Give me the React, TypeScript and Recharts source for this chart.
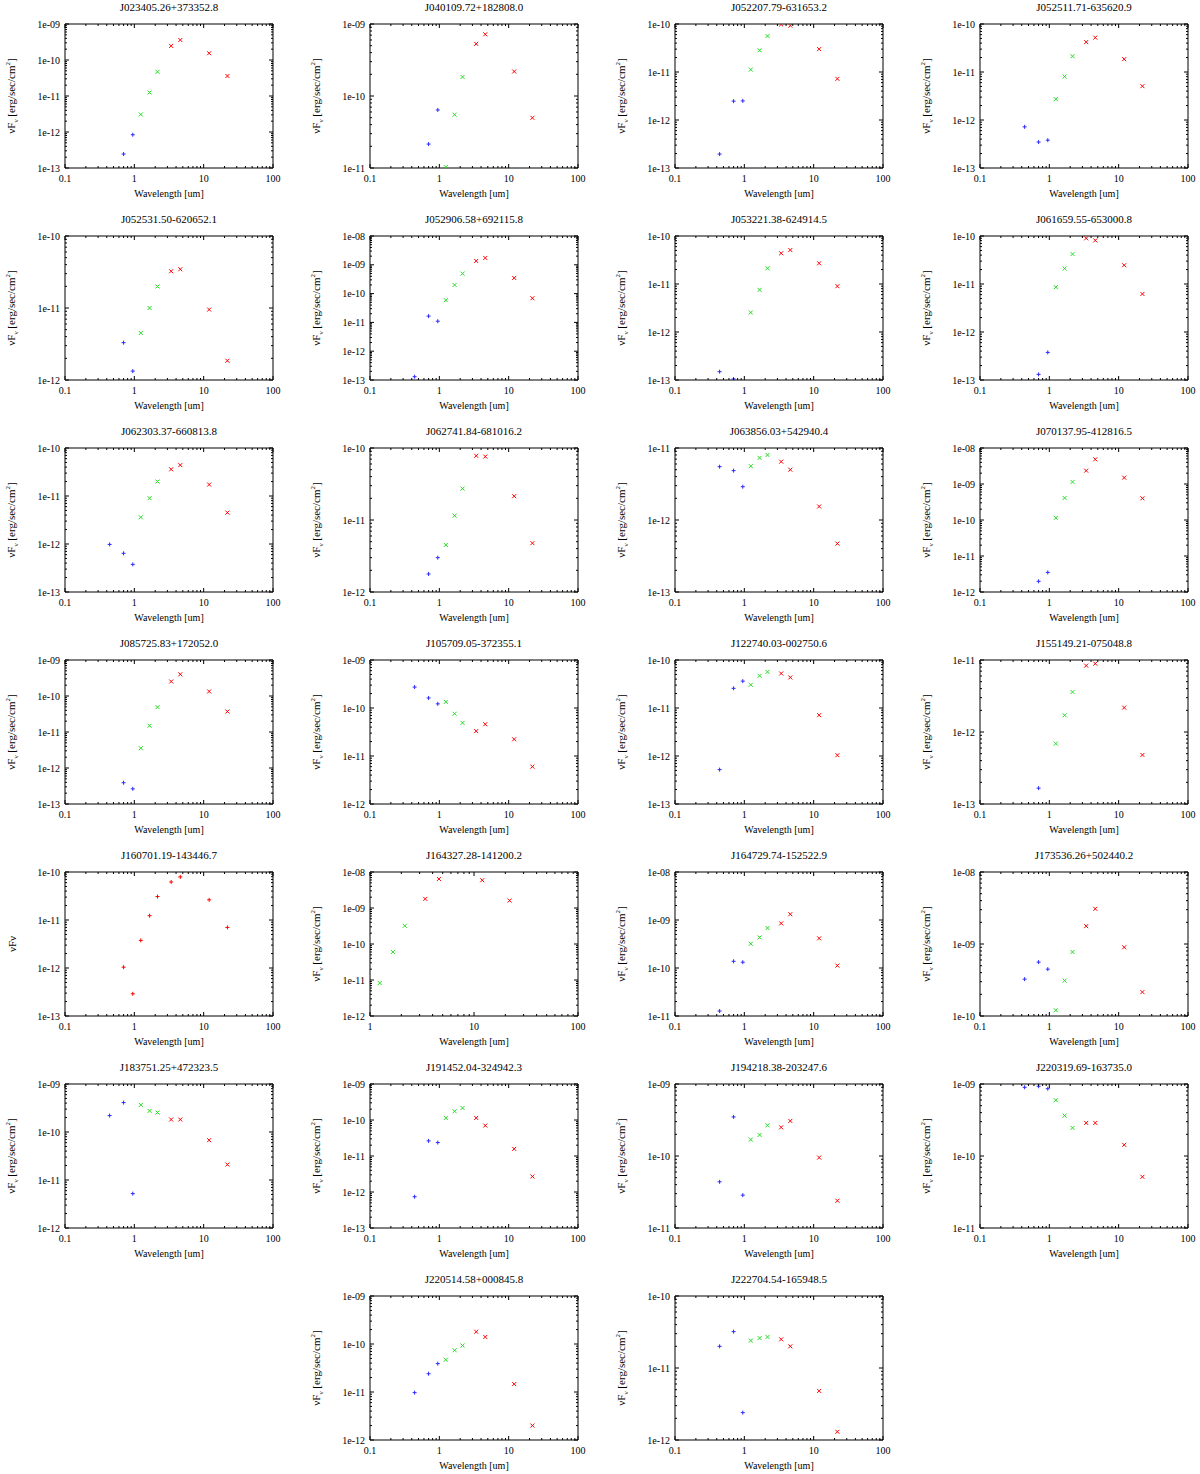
import React from 'react';
import { ScatterChart, Scatter, XAxis, YAxis, ReferenceArea } from 'recharts';

// source names, one panel each
const TITLES = [
    'J023405.26+373352.8', 'J040109.72+182808.0', 'J052207.79-631653.2', 'J052511.71-635620.9',
    'J052531.50-620652.1', 'J052906.58+692115.8', 'J053221.38-624914.5', 'J061659.55-653000.8',
    'J062303.37-660813.8', 'J062741.84-681016.2', 'J063856.03+542940.4', 'J070137.95-412816.5',
    'J085725.83+172052.0', 'J105709.05-372355.1', 'J122740.03-002750.6', 'J155149.21-075048.8',
    'J160701.19-143446.7', 'J164327.28-141200.2', 'J164729.74-152522.9', 'J173536.26+502440.2',
    'J183751.25+472323.5', 'J191452.04-324942.3', 'J194218.38-203247.6', 'J220319.69-163735.0',
    'J220514.58+000845.8', 'J222704.54-165948.5',
];

// band wavelengths [um]
const WL_OPT = [0.44, 0.7, 0.95];
const WL_NIR = [1.24, 1.66, 2.16];
const WL_MIR = [3.4, 4.6, 12, 22];

// nuFnu [erg/sec/cm^2], B R I
const OPT_FLUX: (number | null)[][] = [
    [null, 2.44e-13, 8.4e-13], [null, 2.15e-11, 6.4e-11], [1.95e-13, 2.47e-12, 2.5e-12], [7.2e-13, 3.47e-13, 3.8e-13],
    [null, 3.3e-12, 1.33e-12], [1.3e-13, 1.65e-11, 1.1e-11], [1.49e-13, 1.05e-13, null], [null, 1.31e-13, 3.76e-13],
    [9.8e-13, 6.4e-13, 3.76e-13], [null, 1.78e-12, 3.0e-12], [5.5e-12, 4.85e-12, 2.9e-12], [null, 1.98e-12, 3.5e-12],
    [null, 3.9e-13, 2.64e-13], [2.73e-10, 1.62e-10, 1.22e-10], [5.2e-13, 2.57e-11, 3.63e-11], [null, 1.66e-13, null],
    [null, 1.04e-12, 2.9e-13], [null, null, null], [1.27e-11, 1.38e-10, 1.32e-10], [3.25e-10, 5.6e-10, 4.47e-10],
    [2.2e-10, 4.1e-10, 5.2e-12], [7.4e-13, 2.63e-11, 2.36e-11], [4.38e-11, 3.49e-10, 2.86e-11], [9.0e-10, 9.3e-10, 8.6e-10],
    [9.7e-12, 2.4e-11, 3.9e-11], [2.0e-11, 3.2e-11, 2.4e-12],
];

// J H K
const NIR_FLUX: (number | null)[][] = [
    [3.07e-12, 1.25e-11, 4.68e-11], [1.03e-11, 5.5e-11, 1.84e-10], [1.12e-11, 2.84e-11, 5.6e-11], [2.72e-12, 8.05e-12, 2.13e-11],
    [4.5e-12, 1.0e-11, 1.99e-11], [5.9e-11, 2.0e-10, 4.95e-10], [2.55e-12, 7.55e-12, 2.13e-11], [8.6e-12, 2.1e-11, 4.2e-11],
    [3.6e-12, 9.0e-12, 2.0e-11], [4.5e-12, 1.15e-11, 2.73e-11], [5.6e-12, 7.3e-12, 8.0e-12], [1.15e-10, 4.1e-10, 1.14e-9],
    [3.55e-12, 1.49e-11, 4.9e-11], [1.34e-10, 7.6e-11, 4.9e-11], [3.05e-11, 4.68e-11, 5.66e-11], [6.9e-13, 1.71e-12, 3.6e-12],
    [3.76e-12, 1.23e-11, 3.08e-11], [8.2e-12, 6.0e-11, 3.2e-10], [3.2e-10, 4.35e-10, 6.8e-10], [1.2e-10, 3.1e-10, 7.75e-10],
    [3.66e-10, 2.75e-10, 2.54e-10], [1.14e-10, 1.75e-10, 2.16e-10], [1.69e-10, 1.96e-10, 2.67e-10], [5.94e-10, 3.64e-10, 2.46e-10],
    [4.7e-11, 7.4e-11, 9.3e-11], [2.4e-11, 2.6e-11, 2.7e-11],
];

// W1 W2 W3 W4
const MIR_FLUX: (number | null)[][] = [
    [2.46e-10, 3.6e-10, 1.54e-10, 3.6e-11], [5.3e-10, 7.2e-10, 2.19e-10, 4.98e-11], [9.8e-11, 9.25e-11, 3.0e-11, 7.2e-12],
    [4.2e-11, 5.2e-11, 1.85e-11, 5.07e-12], [3.24e-11, 3.45e-11, 9.5e-12, 1.85e-12], [1.36e-9, 1.73e-9, 3.5e-10, 6.9e-11],
    [4.37e-11, 5.1e-11, 2.7e-11, 9.0e-12], [8.95e-11, 8.1e-11, 2.46e-11, 6.2e-12], [3.6e-11, 4.4e-11, 1.73e-11, 4.5e-12],
    [7.8e-11, 7.6e-11, 2.14e-11, 4.77e-12], [6.46e-12, 5.0e-12, 1.54e-12, 4.7e-13], [2.35e-9, 4.85e-9, 1.5e-9, 4.0e-10],
    [2.53e-10, 4.0e-10, 1.34e-10, 3.7e-11], [3.3e-11, 4.6e-11, 2.23e-11, 6.0e-12], [5.24e-11, 4.33e-11, 7.1e-12, 1.04e-12],
    [8.35e-12, 8.9e-12, 2.18e-12, 4.8e-13], [6.2e-11, 7.9e-11, 2.63e-11, 7.0e-12], [1.79e-9, 6.4e-9, 5.9e-9, 1.61e-9],
    [8.5e-10, 1.32e-9, 4.15e-10, 1.12e-10], [1.77e-9, 3.08e-9, 9.0e-10, 2.15e-10], [1.82e-10, 1.82e-10, 6.76e-11, 2.1e-11],
    [1.14e-10, 7.0e-11, 1.58e-11, 2.7e-12], [2.5e-10, 3.07e-10, 9.5e-11, 2.39e-11], [2.88e-10, 2.88e-10, 1.43e-10, 5.14e-11],
    [1.8e-10, 1.4e-10, 1.46e-11, 2.0e-12], [2.5e-11, 2.0e-11, 4.8e-12, 1.3e-12],
];

// axis ranges as powers of ten
const Y_RANGE: [number, number][] = [
    [-13, -9], [-11, -9], [-13, -10], [-13, -10], [-12, -10], [-13, -8], [-13, -10], [-13, -10],
    [-13, -10], [-12, -10], [-13, -11], [-12, -8], [-13, -9], [-12, -9], [-13, -10], [-13, -11],
    [-13, -10], [-12, -8], [-11, -8], [-10, -8], [-12, -9], [-13, -9], [-11, -9], [-11, -9],
    [-12, -9], [-12, -10],
];
const X_RANGE_DEFAULT: [number, number] = [-1, 2];
const X_RANGE_SPECIAL: Record<number, [number, number]> = { 17: [0, 2] };

// panel 16 was plotted as one red series with a bare label
const SINGLE_SERIES_PANELS = [16];

const FONT = '"Liberation Serif", "Times New Roman", serif';
const COL_W = 305;
const ROW_H = 212;
const BOX_L = 65;
const BOX_T = 24;
const BOX_W = 208;
const BOX_H = 144;

const BLUE = '#2a2aff';
const GREEN = '#22dd22';
const RED = '#ff0000';

const isDecade = (v: number) => Math.abs(Math.log10(v) - Math.round(Math.log10(v))) < 1e-6;

const logTicks = (lo: number, hi: number) => {
    const out: number[] = [];
    for (let e = lo; e < hi; e++) {
        for (let m = 1; m < 10; m++) out.push(m * Math.pow(10, e));
    }
    out.push(Math.pow(10, hi));
    return out;
};

const fmtY = (v: number) => {
    const e = Math.round(Math.log10(v));
    return `1e${e < 0 ? '-' : '+'}${String(Math.abs(e)).padStart(2, '0')}`;
};
const fmtX = (v: number) => {
    const e = Math.round(Math.log10(v));
    return e < 0 ? String(Math.pow(10, e).toFixed(-e)) : String(Math.pow(10, e));
};

const XTick = (props: any) => {
    const { x, y, payload } = props;
    const major = isDecade(payload.value);
    const len = major ? 4 : 2;
    return (
        <g>
            <line x1={x} x2={x} y1={y} y2={y - len} stroke="#000" />
            <line x1={x} x2={x} y1={y - BOX_H} y2={y - BOX_H + len} stroke="#000" />
            {major && (
                <text x={x} y={y + 14} textAnchor="middle" fontSize={10} fontFamily={FONT} fill="#000">
                    {fmtX(payload.value)}
                </text>
            )}
        </g>
    );
};

const YTick = (props: any) => {
    const { x, y, payload } = props;
    const major = isDecade(payload.value);
    const len = major ? 4 : 2;
    return (
        <g>
            <line x1={x} x2={x + len} y1={y} y2={y} stroke="#000" />
            <line x1={x + BOX_W} x2={x + BOX_W - len} y1={y} y2={y} stroke="#000" />
            {major && (
                <text x={x - 5} y={y + 3.5} textAnchor="end" fontSize={10} fontFamily={FONT} fill="#000">
                    {fmtY(payload.value)}
                </text>
            )}
        </g>
    );
};

const plusShape = (color: string) => (p: any) => {
    const { cx, cy } = p;
    return <path d={`M${cx - 2},${cy}H${cx + 2}M${cx},${cy - 2}V${cy + 2}`} stroke={color} strokeWidth={1} fill="none" />;
};
const crossShape = (color: string) => (p: any) => {
    const { cx, cy } = p;
    return (
        <path
            d={`M${cx - 2},${cy - 2}L${cx + 2},${cy + 2}M${cx - 2},${cy + 2}L${cx + 2},${cy - 2}`}
            stroke={color}
            strokeWidth={1}
            fill="none"
        />
    );
};

const toPoints = (wl: number[], flux: (number | null)[]) =>
    wl.map((x, i) => ({ x, y: flux[i] })).filter((d) => d.y !== null) as { x: number; y: number }[];

function Panel({ idx }: { idx: number }) {
    const row = Math.floor(idx / 4);
    const col = idx >= 24 ? idx - 23 : idx % 4;
    const [ylo, yhi] = Y_RANGE[idx];
    const [xlo, xhi] = X_RANGE_SPECIAL[idx] || X_RANGE_DEFAULT;
    const single = SINGLE_SERIES_PANELS.includes(idx);

    const opt = toPoints(WL_OPT, OPT_FLUX[idx]);
    const nir = toPoints(WL_NIR, NIR_FLUX[idx]);
    const mir = toPoints(WL_MIR, MIR_FLUX[idx]);
    const xDom = [Math.pow(10, xlo), Math.pow(10, xhi)];
    const yDom = [Math.pow(10, ylo), Math.pow(10, yhi)];

    return (
        <div style={{ position: 'absolute', left: col * COL_W, top: row * ROW_H, width: COL_W, height: ROW_H }}>
            <div
                style={{
                    position: 'absolute', left: BOX_L, top: 0, width: BOX_W, textAlign: 'center',
                    fontSize: 11, lineHeight: '14px', fontFamily: FONT, whiteSpace: 'nowrap',
                }}
            >
                {TITLES[idx]}
            </div>
            <ScatterChart width={COL_W} height={ROW_H} margin={{ top: BOX_T, right: COL_W - BOX_L - BOX_W, bottom: 14, left: 20 }}>
                <XAxis
                    xAxisId="b" type="number" dataKey="x" scale="log" domain={xDom} allowDataOverflow
                    ticks={logTicks(xlo, xhi)} interval={0} height={30}
                    tickSize={0} tickMargin={0} tickLine={false} axisLine={false} tick={XTick}
                />
                <YAxis
                    yAxisId="l" type="number" dataKey="y" scale="log" domain={yDom} allowDataOverflow
                    ticks={logTicks(ylo, yhi)} interval={0} width={45}
                    tickSize={0} tickMargin={0} tickLine={false} axisLine={false} tick={YTick}
                />
                <ReferenceArea
                    xAxisId="b" yAxisId="l" x1={xDom[0]} x2={xDom[1]} y1={yDom[0]} y2={yDom[1]}
                    fill="none" fillOpacity={0} stroke="#000" strokeOpacity={1} strokeWidth={1} ifOverflow="visible"
                />
                {single ? (
                    <Scatter xAxisId="b" yAxisId="l" data={[...opt, ...nir, ...mir]} shape={plusShape(RED)} isAnimationActive={false} />
                ) : null}
                {!single && opt.length > 0 ? (
                    <Scatter xAxisId="b" yAxisId="l" data={opt} shape={plusShape(BLUE)} isAnimationActive={false} />
                ) : null}
                {!single ? <Scatter xAxisId="b" yAxisId="l" data={nir} shape={crossShape(GREEN)} isAnimationActive={false} /> : null}
                {!single ? <Scatter xAxisId="b" yAxisId="l" data={mir} shape={crossShape(RED)} isAnimationActive={false} /> : null}
            </ScatterChart>
            <div
                style={{
                    position: 'absolute', left: BOX_L, top: BOX_T + BOX_H + 20, width: BOX_W, textAlign: 'center',
                    fontSize: 10, lineHeight: '12px', fontFamily: FONT, whiteSpace: 'nowrap',
                }}
            >
                Wavelength [um]
            </div>
            <div
                style={{
                    position: 'absolute', left: BOX_L - 53, top: BOX_T + BOX_H / 2,
                    transform: 'translate(-50%, -50%) rotate(-90deg)',
                    fontSize: 11, lineHeight: '12px', fontFamily: FONT, whiteSpace: 'nowrap',
                }}
            >
                {single ? (
                    'νFν'
                ) : (
                    <span>
                        νF<sub style={{ fontSize: 7 }}>ν</sub> [erg/sec/cm<sup style={{ fontSize: 7 }}>2</sup>]
                    </span>
                )}
            </div>
        </div>
    );
}

export default function App() {
    return (
        <div style={{ position: 'absolute', left: 0, top: 0, width: 1200, height: 1474, background: '#fff' }}>
            {TITLES.map((_, i) => (
                <Panel key={i} idx={i} />
            ))}
        </div>
    );
}
